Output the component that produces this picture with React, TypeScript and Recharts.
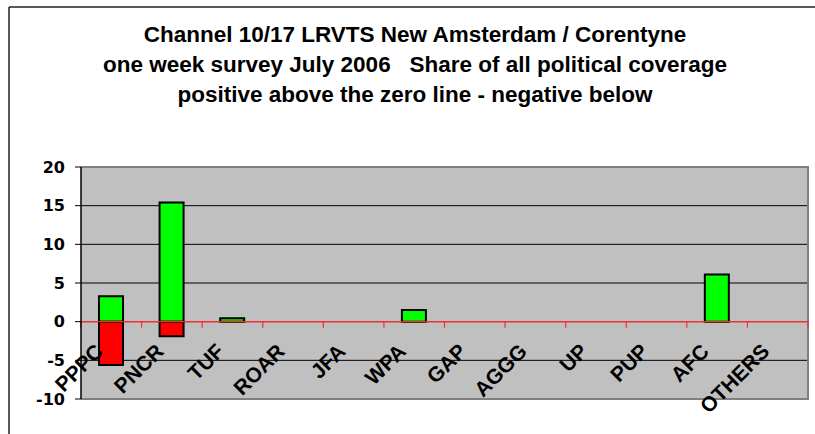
import React from 'react';
import { BarChart, Bar, XAxis, YAxis, CartesianGrid, ReferenceLine, ReferenceArea } from 'recharts';

const categories = ['PPPC', 'PNCR', 'TUF', 'ROAR', 'JFA', 'WPA', 'GAP', 'AGGG', 'UP', 'PUP', 'AFC', 'OTHERS'];
const positiveShare: (number | null)[] = [3.3, 15.4, 0.45, null, null, 1.5, null, null, null, null, 6.1, null];
const negativeShare: (number | null)[] = [-5.6, -1.9, null, null, null, null, null, null, null, null, null, null];
const yTicks = [-10, -5, 0, 5, 10, 15, 20];
const titleLines = [
  'Channel 10/17 LRVTS New Amsterdam / Corentyne',
  'one week survey July 2006   Share of all political coverage',
  'positive above the zero line - negative below',
];

const data = categories.map((party, i) => ({
  party,
  positive: positiveShare[i],
  negative: negativeShare[i],
}));

const W = 815;
const H = 434;
const ARIAL = '"Liberation Sans", Arial, sans-serif';

const ZeroAxis = (props: any) => {
  const { x1, x2, y1 } = props;
  const n = categories.length;
  const band = (x2 - x1) / n;
  const bounds = categories.map((_, i) => x1 + (i + 1) * band);
  return (
    <g>
      <line x1={x1} y1={y1} x2={x2} y2={y1} stroke="#ff2a2a" strokeWidth={1.3} />
      {[x1, ...bounds].map((bx, k) => (
        <line key={k} x1={bx} x2={bx} y1={y1} y2={y1 + 6} stroke="#ff2a2a" strokeWidth={1.2} />
      ))}
      {categories.map((c, i) => {
        const cx = x1 + (i + 0.5) * band - 7;
        const cy = y1 + 31;
        return (
          <text
            key={c}
            x={cx}
            y={cy}
            transform={`rotate(-45 ${cx} ${cy})`}
            textAnchor="end"
            fontFamily={ARIAL}
            fontWeight="bold"
            fontSize={21}
            fill="#000"
          >
            {c}
          </text>
        );
      })}
    </g>
  );
};

const PlotBorder = (props: any) => {
  const { x, y, width, height } = props;
  return (
    <path
      d={`M${x},${y} L${x + width},${y} L${x + width},${y + height} L${x},${y + height}`}
      fill="none"
      stroke="#808080"
      strokeWidth={2}
    />
  );
};

export default function App() {
  return (
    <div style={{ position: 'absolute', left: 0, top: 0, width: W, height: H, background: '#fff' }}>
      <svg width={W} height={H} style={{ position: 'absolute', left: 0, top: 0 }}>
        <line x1={9} y1={7} x2={W} y2={7} stroke="#222" strokeWidth={1.5} />
        <line x1={9} y1={7} x2={9} y2={H} stroke="#222" strokeWidth={1.5} />
        {titleLines.map((t, i) => (
          <text
            key={i}
            x={415}
            y={42 + i * 30}
            textAnchor="middle"
            fontFamily={ARIAL}
            fontWeight="bold"
            fontSize={22.5}
            fill="#000"
            style={{ whiteSpace: 'pre' }}
          >
            {t}
          </text>
        ))}
      </svg>
      <div style={{ position: 'absolute', left: 0, top: 0 }}>
        <BarChart
          width={W}
          height={H}
          data={data}
          stackOffset="sign"
          margin={{ top: 167, right: 7, bottom: 35, left: 1 }}
          barSize={24}
        >
          <CartesianGrid horizontal vertical={false} stroke="#000" fill="#c0c0c0" />
          <XAxis dataKey="party" hide />
          <YAxis
            domain={[-10, 20]}
            ticks={yTicks}
            width={80}
            interval={0}
            tickSize={6}
            tickMargin={10}
            axisLine={{ stroke: '#000', strokeWidth: 1.5 }}
            tickLine={{ stroke: '#000' }}
            tick={{ fill: '#000', fontFamily: '"DejaVu Sans", sans-serif', fontWeight: 'bold', fontSize: 16 }}
          />
          <ReferenceArea y1={-10} y2={20} shape={PlotBorder} />
          <Bar dataKey="positive" stackId="s" fill="#00ff00" stroke="#000" strokeWidth={2} isAnimationActive={false} />
          <Bar dataKey="negative" stackId="s" fill="#ff0000" stroke="#000" strokeWidth={2} isAnimationActive={false} />
          <ReferenceLine y={0} shape={ZeroAxis} />
        </BarChart>
      </div>
    </div>
  );
}
